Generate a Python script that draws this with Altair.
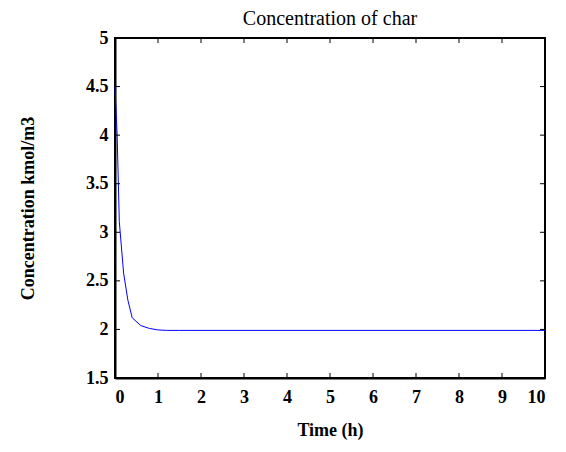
import altair as alt
import pandas as pd

time_h = [0, 0.05, 0.1, 0.2, 0.3, 0.4, 0.6, 0.8, 1.0, 1.2, 1.5, 2, 3, 4, 5, 6, 7, 8, 9, 10]
conc = [4.5, 4.0, 3.11, 2.58, 2.30, 2.12, 2.04, 2.01, 1.995, 1.99, 1.99, 1.99, 1.99, 1.99, 1.99, 1.99, 1.99, 1.99, 1.99, 1.99]
x_ticks = [0, 1, 2, 3, 4, 5, 6, 7, 8, 9, 10]
y_ticks = [1.5, 2, 2.5, 3, 3.5, 4, 4.5, 5]

W, H = 430, 340
FONT = "Liberation Serif"

df = pd.DataFrame({"t": time_h, "c": conc})
xt = pd.DataFrame({"t": x_ticks})
yt = pd.DataFrame({"c": y_ticks})

xs = alt.Scale(domain=[0, 10], nice=False)
ys = alt.Scale(domain=[1.5, 5], nice=False)

line = alt.Chart(df).mark_line(color="#0000ff", strokeWidth=1).encode(
    x=alt.X("t:Q", scale=xs, axis=alt.Axis(values=x_ticks, title="Time (h)", format="d",
                                             tickSize=0, labelPadding=10, titlePadding=15, grid=False)),
    y=alt.Y("c:Q", scale=ys, axis=alt.Axis(values=y_ticks, title="Concentration kmol/m3", format="~g",
                                             tickSize=0, labelPadding=7, titlePadding=48, grid=False)),
)

tl = 5
bot = alt.Chart(xt).mark_rule(color="black").encode(x=alt.X("t:Q", scale=xs), y=alt.value(H), y2=alt.value(H - tl))
top = alt.Chart(xt).mark_rule(color="black").encode(x=alt.X("t:Q", scale=xs), y=alt.value(0), y2=alt.value(tl))
left = alt.Chart(yt).mark_rule(color="black").encode(y=alt.Y("c:Q", scale=ys), x=alt.value(0), x2=alt.value(tl))
right = alt.Chart(yt).mark_rule(color="black").encode(y=alt.Y("c:Q", scale=ys), x=alt.value(W), x2=alt.value(W - tl))

chart = alt.layer(line, bot, top, left, right).properties(
    width=W, height=H,
    title=alt.TitleParams("Concentration of char", font=FONT, fontSize=20, fontWeight="normal", offset=0),
    padding={"left": 107, "top": 30, "right": 13, "bottom": 66},
    autosize=alt.AutoSizeParams(type="none"),
).configure_view(stroke="black", strokeWidth=2).configure_axis(
    labelFont=FONT, labelFontSize=18, labelFontWeight="bold", labelColor="black",
    titleFont=FONT, titleFontSize=18, titleFontWeight="bold", titleColor="black",
    domainColor="black", domainWidth=2,
)

chart.save("out.html", embed_options={"renderer": "svg", "actions": False})
